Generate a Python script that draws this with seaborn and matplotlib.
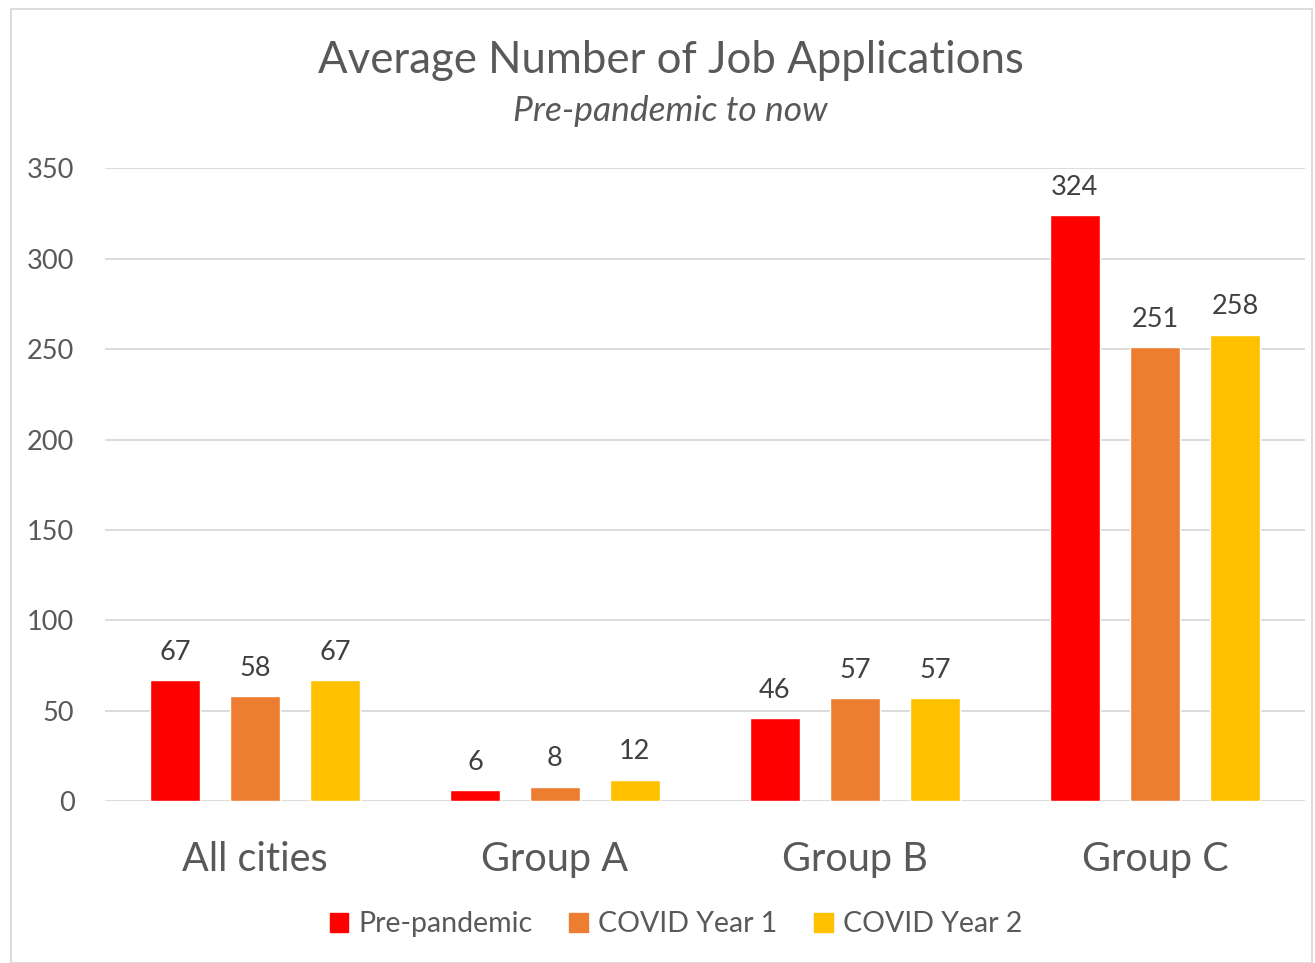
import matplotlib
matplotlib.use("Agg")
import matplotlib.pyplot as plt
import matplotlib.patches as mpatches
import seaborn as sns
import pandas as pd

categories = ["All cities", "Group A", "Group B", "Group C"]
series = ["Pre-pandemic", "COVID Year 1", "COVID Year 2"]
pre_pandemic = [67, 6, 46, 324]
covid_year1 = [58, 8, 57, 251]
covid_year2 = [67, 12, 57, 258]
colors = ["#FF0000", "#ED7D31", "#FFC000"]
yticks = [0, 50, 100, 150, 200, 250, 300, 350]

rows = []
for s, vals in zip(series, [pre_pandemic, covid_year1, covid_year2]):
    for c, v in zip(categories, vals):
        rows.append({"Category": c, "Series": s, "Value": v})
df = pd.DataFrame(rows)

sns.set_theme(style="white")
plt.rcParams["font.family"] = ["Lato", "DejaVu Sans"]
gray = "#595959"

fig = plt.figure(figsize=(13.15, 9.63), dpi=100)
ax = fig.add_axes([0.0798, 0.168, 0.9125, 0.6573])

sns.barplot(data=df, x="Category", y="Value", hue="Series", palette=colors,
            width=0.8, gap=0.375, ax=ax, legend=False, saturation=1)

for container in ax.containers:
    ax.bar_label(container, fmt="%d", padding=11, fontsize=19.5, color="#404040")

ax.set_ylim(0, 350)
ax.set_xlim(-0.5, 3.5)
ax.set_yticks(yticks)
ax.yaxis.grid(True, color="#D9D9D9", linewidth=1.3)
ax.set_axisbelow(True)
for sp in ax.spines.values():
    sp.set_visible(False)
ax.tick_params(axis="y", labelsize=19.5, colors=gray, length=0, pad=22)
ax.tick_params(axis="x", labelsize=28.5, colors=gray, length=0, pad=29)
ax.set_xlabel("")
ax.set_ylabel("")

fig.text(0.51, 0.937, "Average Number of Job Applications", ha="center", va="center",
         fontsize=31.5, color=gray)
fig.text(0.51, 0.885, "Pre-pandemic to now", ha="center", va="center",
         fontsize=25.5, color=gray, style="italic")

handles = [mpatches.Patch(color=c, label=s) for c, s in zip(colors, series)]
fig.legend(handles=handles, loc="center", bbox_to_anchor=(0.514, 0.04), ncol=3,
           frameon=False, fontsize=20.5, labelcolor=gray, handlelength=0.65,
           handleheight=0.65, handletextpad=0.35, columnspacing=1.3)

fig.patches.append(mpatches.Rectangle((0.008, 0.0), 0.99, 0.991, transform=fig.transFigure,
                                      fill=False, edgecolor="#D9D9D9", linewidth=1.3))

fig.savefig("out.png", dpi=100)
